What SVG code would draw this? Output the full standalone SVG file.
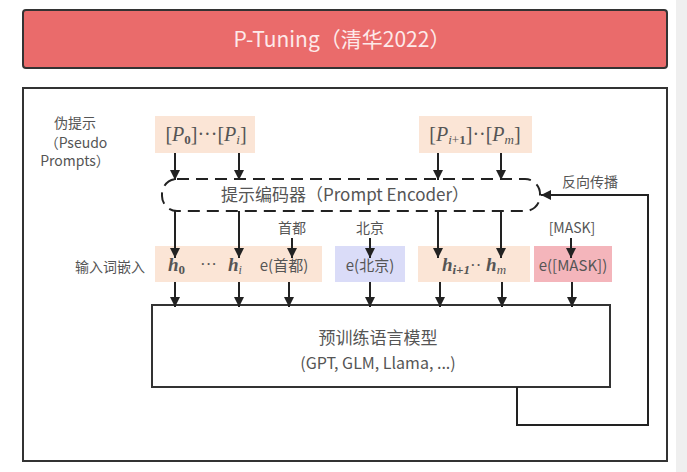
<svg xmlns="http://www.w3.org/2000/svg" width="687" height="472" viewBox="0 0 687 472">
<defs>
<marker id="ah" viewBox="0 0 10 10" refX="10" refY="5" markerWidth="14" markerHeight="10" orient="auto" markerUnits="userSpaceOnUse"><path d="M0,0 L10,5 L0,10 z" fill="#222"/></marker>
<style>
.ln{stroke:#222;stroke-width:2;fill:none}
.ar{stroke:#222;stroke-width:2;fill:none;marker-end:url(#ah)}
.sans{font-family:"Noto Sans CJK SC","Noto Sans",sans-serif;fill:#555}
.math{font-family:"Liberation Serif","DejaVu Serif",serif;fill:#555}
.peach{fill:#fbe5d6}
</style>
</defs>
<rect x="0" y="0" width="687" height="472" fill="#fff"/>
<rect x="676" y="0" width="11" height="472" fill="#efefef"/>

<g id="title">
<rect x="23" y="10" width="644" height="58" rx="3" fill="#ea6b6b" stroke="#333" stroke-width="2"/>
<text x="342" y="47" text-anchor="middle" font-family="'Noto Sans CJK SC','Noto Sans',sans-serif" font-size="21" fill="#fde9e9">P-Tuning（清华2022）</text>
</g>

<g id="frame">
<rect x="23" y="88" width="644" height="373" fill="none" stroke="#333" stroke-width="2"/>
</g>

<g id="pseudo-label" class="sans" font-size="14">
<text x="75" y="128" text-anchor="middle" class="sans">伪提示</text>
<text x="76" y="148" text-anchor="middle" class="sans">（Pseudo</text>
<text x="75" y="166" text-anchor="middle" class="sans">Prompts）</text>
</g>

<g id="prompts1">
<rect x="155" y="116" width="100" height="37" class="peach"/>
<text x="206" y="141" text-anchor="middle" class="math" font-size="20">[<tspan font-style="italic">P</tspan><tspan font-size="13" font-weight="bold" dy="3">0</tspan><tspan dy="-3">]</tspan>···[<tspan font-style="italic">P</tspan><tspan font-size="13" font-style="italic" dy="3">i</tspan><tspan dy="-3">]</tspan></text>
</g>

<g id="prompts2">
<rect x="419" y="116" width="113" height="37" class="peach"/>
<text x="475" y="141" text-anchor="middle" class="math" font-size="20">[<tspan font-style="italic">P</tspan><tspan font-size="13" font-style="italic" dy="3">i</tspan><tspan font-size="13" dy="0">+</tspan><tspan font-size="13" font-weight="bold">1</tspan><tspan dy="-3">]</tspan>··[<tspan font-style="italic">P</tspan><tspan font-size="13" font-style="italic" dy="3">m</tspan><tspan dy="-3">]</tspan></text>
</g>

<g id="encoder">
<rect x="162" y="179" width="378" height="32" rx="15" fill="#fff" stroke="#222" stroke-width="2" stroke-dasharray="12 7"/>
<text x="345" y="201" text-anchor="middle" class="sans" font-size="17">提示编码器（Prompt Encoder）</text>
</g>

<g id="backprop-label">
<text x="590" y="187" text-anchor="middle" class="sans" font-size="14">反向传播</text>
</g>

<g id="input-label">
<text x="110" y="272" text-anchor="middle" class="sans" font-size="14">输入词嵌入</text>
</g>

<g id="emb1">
<rect x="155" y="246" width="167" height="36" class="peach"/>
<text x="168" y="271" class="math" font-size="19" font-weight="bold" font-style="italic">h<tspan font-size="13" font-style="normal" dy="3">0</tspan></text>
<text x="200" y="270" class="math" font-size="17">···</text>
<text x="228" y="271" class="math" font-size="19" font-weight="bold" font-style="italic">h<tspan font-size="12" font-weight="normal" dy="3">i</tspan></text>
<text x="284" y="271" text-anchor="middle" class="sans" font-size="15">e(首都)</text>
</g>

<g id="emb-beijing">
<rect x="335" y="246" width="70" height="36" fill="#dadcf8"/>
<text x="370" y="271" text-anchor="middle" class="sans" font-size="15">e(北京)</text>
</g>

<g id="emb2">
<rect x="418" y="246" width="112" height="36" class="peach"/>
<text x="474" y="271" text-anchor="middle" class="math" font-size="19" font-weight="bold" font-style="italic">h<tspan font-size="13" dy="3">i+1</tspan><tspan font-size="17" font-weight="normal" font-style="normal" dy="-3">··</tspan> h<tspan font-size="13" font-weight="normal" dy="3">m</tspan></text>
</g>

<g id="emb-mask">
<rect x="534" y="246" width="78" height="36" fill="#f4b5bb"/>
<text x="573" y="271" text-anchor="middle" class="sans" font-size="15">e([MASK])</text>
</g>

<g id="word-labels" class="sans" font-size="14">
<text x="292" y="233" text-anchor="middle" class="sans">首都</text>
<text x="370" y="233" text-anchor="middle" class="sans">北京</text>
<text x="572" y="233" text-anchor="middle" class="sans">[MASK]</text>
</g>

<g id="model">
<rect x="152" y="305" width="458" height="82" fill="#fff" stroke="#333" stroke-width="2"/>
<text x="378" y="344" text-anchor="middle" class="sans" font-size="17">预训练语言模型</text>
<text x="378" y="369" text-anchor="middle" class="sans" font-size="16">(GPT, GLM, Llama, ...)</text>
</g>

<g id="connectors">
<line class="ar" x1="175" y1="153" x2="175" y2="180"/>
<line class="ar" x1="239" y1="153" x2="239" y2="180"/>
<line class="ar" x1="438" y1="153" x2="438" y2="180"/>
<line class="ar" x1="501" y1="153" x2="501" y2="180"/>
<line class="ar" x1="175" y1="211" x2="175" y2="258"/>
<line class="ar" x1="239" y1="211" x2="239" y2="258"/>
<line class="ar" x1="438" y1="211" x2="438" y2="258"/>
<line class="ar" x1="501" y1="211" x2="501" y2="258"/>
<line class="ar" x1="292" y1="238" x2="292" y2="258"/>
<line class="ar" x1="370" y1="238" x2="370" y2="258"/>
<line class="ar" x1="571" y1="238" x2="571" y2="258"/>
<line class="ar" x1="175" y1="282" x2="175" y2="307"/>
<line class="ar" x1="239" y1="282" x2="239" y2="307"/>
<line class="ar" x1="289" y1="282" x2="289" y2="307"/>
<line class="ar" x1="370" y1="282" x2="370" y2="307"/>
<line class="ar" x1="440" y1="282" x2="440" y2="307"/>
<line class="ar" x1="502" y1="282" x2="502" y2="307"/>
<line class="ar" x1="572" y1="282" x2="572" y2="307"/>
<polyline class="ar" points="517,387 517,425 648,425 648,195 541,195"/>
</g>
</svg>
